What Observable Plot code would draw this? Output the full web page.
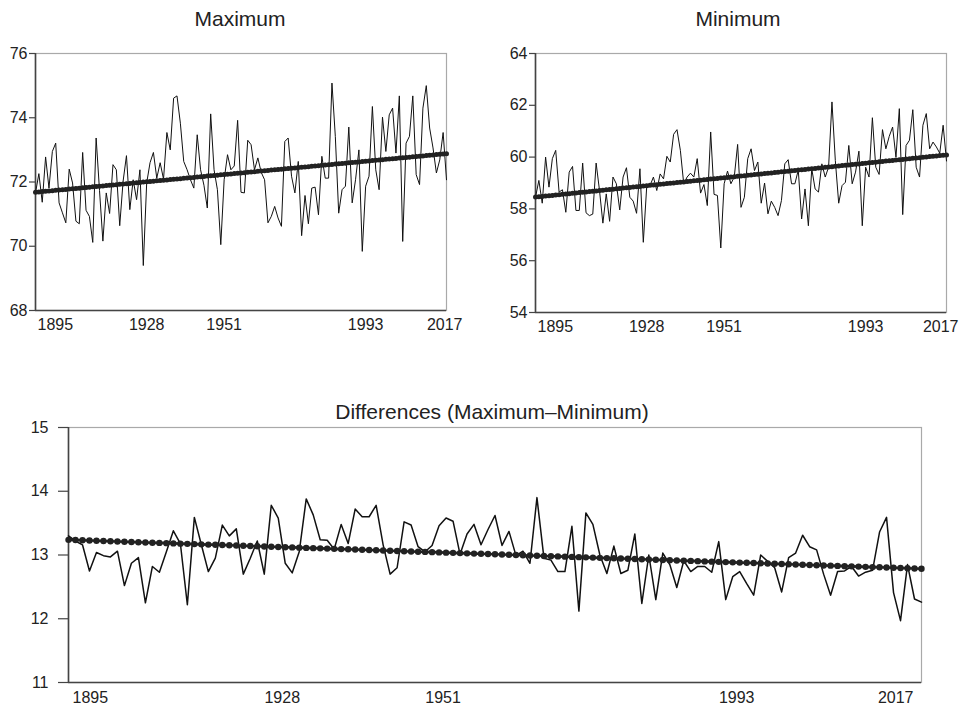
<!DOCTYPE html>
<html>
<head>
<meta charset="utf-8">
<script src="https://cdn.jsdelivr.net/npm/d3@7"></script>
<script src="https://cdn.jsdelivr.net/npm/@observablehq/plot@0.6"></script>
<style>
  html, body { margin: 0; padding: 0; background: #fff; }
  #root { position: relative; width: 960px; height: 708px; overflow: hidden; font-family: "Liberation Sans", Arial, sans-serif; }
  .panel { position: absolute; }
  #titles { position: absolute; left: 0; top: 0; pointer-events: none; }
</style>
</head>
<body>
<div id="root"></div>
<script>
// ---------- data ----------
const firstYear = 1895;
const lastYear = 2017;
const years = d3.range(firstYear, lastYear + 1);

const maximum = [
  71.66, 72.26, 71.37, 72.78, 71.81, 72.95, 73.21, 71.35, 71.04, 70.73,
  72.40, 71.97, 70.78, 70.70, 72.92, 71.12, 70.93, 70.12, 73.37, 71.74,
  70.16, 71.66, 71.02, 72.54, 72.38, 70.64, 72.02, 72.82, 71.14, 72.07,
  71.45, 72.38, 69.40, 71.97, 72.60, 72.92, 72.12, 72.60, 72.09, 73.54,
  73.00, 74.61, 74.68, 73.83, 72.64, 72.38, 72.07, 71.81, 73.47, 72.38,
  71.90, 71.19, 74.12, 72.38, 71.76, 70.05, 72.07, 72.85, 72.38, 72.50,
  73.92, 71.68, 71.66, 73.30, 73.16, 72.38, 72.75, 72.30, 72.07, 70.73,
  70.93, 71.24, 70.88, 70.62, 73.26, 73.37, 72.18, 71.66, 72.64, 70.33,
  71.58, 70.70, 71.81, 71.84, 70.98, 72.80, 72.12, 72.12, 75.08, 73.42,
  71.03, 71.76, 71.87, 73.71, 71.35, 72.07, 73.00, 69.84, 71.87, 72.18,
  74.35, 72.38, 71.76, 74.02, 72.95, 74.09, 74.30, 72.90, 74.68, 70.15,
  73.21, 73.42, 74.68, 72.23, 71.92, 74.30, 75.00, 73.68, 73.06, 72.28,
  72.69, 73.54, 72.07
];

const minimum = [
  58.45, 59.10, 58.22, 60.00, 58.84, 59.94, 60.26, 58.65, 58.74, 57.87,
  59.42, 59.64, 57.94, 57.94, 59.77, 57.85, 57.74, 57.80, 59.77, 58.71,
  57.45, 58.58, 57.52, 59.23, 58.97, 57.96, 59.23, 59.59, 58.45, 58.30,
  57.83, 59.55, 56.71, 58.84, 58.90, 59.23, 58.71, 59.35, 59.16, 60.03,
  59.81, 60.88, 61.06, 60.26, 58.97, 59.23, 59.38, 59.23, 59.94, 58.61,
  58.94, 58.13, 60.97, 58.56, 58.52, 56.49, 58.97, 59.46, 58.97, 59.23,
  60.49, 58.06, 58.45, 59.94, 60.32, 59.48, 59.81, 58.22, 59.00, 57.81,
  58.30, 58.06, 57.74, 58.32, 59.74, 59.90, 58.97, 58.97, 59.50, 57.61,
  58.77, 57.35, 59.55, 58.77, 58.65, 59.74, 59.23, 59.61, 62.13, 59.87,
  58.22, 58.90, 59.03, 60.45, 58.97, 59.42, 60.23, 57.35, 59.61, 59.23,
  61.52, 59.61, 59.33, 61.06, 60.32, 60.80, 61.16, 60.00, 61.87, 57.78,
  60.45, 60.65, 61.83, 59.61, 59.23, 61.23, 61.68, 60.32, 60.58, 60.39,
  60.15, 61.23, 59.85
];

const differences = [
  13.30, 13.22, 13.16, 12.75, 13.04, 12.99, 12.97, 13.06, 12.52, 12.87,
  12.96, 12.25, 12.82, 12.73, 13.05, 13.38, 13.18, 12.22, 13.59, 13.16,
  12.74, 12.95, 13.47, 13.30, 13.41, 12.70, 12.95, 13.22, 12.70, 13.78,
  13.58, 12.87, 12.72, 13.05, 13.88, 13.63, 13.24, 13.23, 13.09, 13.48,
  13.18, 13.72, 13.60, 13.60, 13.78, 13.16, 12.70, 12.80, 13.52, 13.47,
  13.13, 13.05, 13.15, 13.46, 13.58, 13.53, 13.01, 13.33, 13.48, 13.16,
  13.40, 13.62, 13.15, 13.37, 12.99, 13.06, 12.87, 13.90, 12.95, 12.92,
  12.74, 12.74, 13.45, 12.12, 13.66, 13.48, 13.00, 12.71, 13.14, 12.71,
  12.76, 13.33, 12.24, 13.00, 12.30, 13.03, 12.85, 12.49, 12.91, 12.74,
  12.82, 12.82, 12.73, 13.21, 12.30, 12.66, 12.74, 12.55, 12.37, 13.00,
  12.90, 12.80, 12.42, 12.96, 13.03, 13.31, 13.13, 13.08, 12.70, 12.37,
  12.74, 12.75, 12.82, 12.67, 12.73, 12.76, 13.36, 13.59, 12.41, 11.97,
  12.85, 12.31, 12.26
];

const xTickYears = [1895, 1928, 1951, 1993, 2017];
const maxTicks = [68, 70, 72, 74, 76];
const minTicks = [54, 56, 58, 60, 62, 64];
const diffTicks = [11, 12, 13, 14, 15];
const titles = ["Maximum", "Minimum", "Differences (Maximum\u2013Minimum)"];

// ---------- least-squares trend of each series ----------
function trendOf(values) {
  const mx = d3.mean(years), my = d3.mean(values);
  const b = d3.sum(years, (x, i) => (x - mx) * (values[i] - my)) / d3.sum(years, x => (x - mx) ** 2);
  return years.map(x => my + b * (x - mx));
}

const root = document.getElementById("root");

function panel(cfg) {
  const trend = trendOf(cfg.values);
  const rows = years.map((year, i) => ({year, value: cfg.values[i], trend: trend[i]}));
  const yDomain = [d3.min(cfg.yTicks), d3.max(cfg.yTicks)];
  const xText = {tickSize: 0, tickPadding: cfg.xPad, tickFormat: d => String(d), label: null, fontSize: 16, fill: "#222"};
  const chart = Plot.plot({
    width: cfg.width,
    height: cfg.height,
    marginLeft: cfg.margin[3],
    marginRight: cfg.margin[1],
    marginTop: cfg.margin[0],
    marginBottom: cfg.margin[2],
    style: {fontFamily: "'Liberation Sans', Arial, sans-serif", fontSize: "16px", color: "#222", background: "transparent", overflow: "visible"},
    x: {domain: [firstYear, lastYear]},
    y: {domain: yDomain},
    marks: [
      Plot.frame({stroke: "#a9a9a9", strokeWidth: 1.2}),
      Plot.ruleX([firstYear], {stroke: "#444", strokeWidth: 1.6}),
      Plot.ruleY([yDomain[0]], {stroke: "#444", strokeWidth: 1.6}),
      Plot.axisY({ticks: cfg.yTicks, tickSize: cfg.tickSize, tickPadding: cfg.tickPadding, tickFormat: d => String(d), label: null, stroke: "#444", strokeWidth: 1.2, fontSize: 16, fill: "#222"}),
      Plot.axisX({...xText, ticks: xTickYears.slice(0, 1), dx: cfg.firstDx, textAnchor: "start"}),
      Plot.axisX({...xText, ticks: xTickYears.slice(1, -1), dx: cfg.xDx}),
      Plot.axisX({...xText, ticks: xTickYears.slice(-1), dx: cfg.lastDx, textAnchor: "end"}),
      Plot.line(rows, {x: "year", y: "value", stroke: "#111", strokeWidth: cfg.lineWidth}),
      Plot.line(rows, {x: "year", y: "trend", stroke: "#222", strokeWidth: cfg.trendWidth}),
      Plot.dot(rows, {x: "year", y: "trend", r: cfg.dotR, fill: "#222", stroke: "none"})
    ]
  });
  const holder = document.createElement("div");
  holder.className = "panel";
  holder.style.left = cfg.left + "px";
  holder.style.top = cfg.top + "px";
  holder.appendChild(chart);
  root.appendChild(holder);
}

panel({values: maximum, yTicks: maxTicks, left: 0, top: 0, width: 470, height: 340,
  margin: [53, 24, 30, 35], tickSize: 6, tickPadding: 2, xPad: 8, xDx: 0, firstDx: 2, lastDx: 16,
  lineWidth: 1, trendWidth: 3.4, dotR: 2.5});
panel({values: minimum, yTicks: minTicks, left: 480, top: 0, width: 480, height: 340,
  margin: [53, 14, 28, 55], tickSize: 6, tickPadding: 2, xPad: 8, xDx: 0, firstDx: 2, lastDx: 12,
  lineWidth: 1, trendWidth: 3.4, dotR: 2.5});
panel({values: differences, yTicks: diffTicks, left: 0, top: 360, width: 960, height: 348,
  margin: [67, 39, 26, 68], tickSize: 10, tickPadding: 10, xPad: 9, xDx: -17, firstDx: 4, lastDx: -8,
  lineWidth: 1.5, trendWidth: 2.6, dotR: 3.2});

// ---------- titles ----------
const svgNS = "http://www.w3.org/2000/svg";
const tsvg = document.createElementNS(svgNS, "svg");
tsvg.setAttribute("id", "titles");
tsvg.setAttribute("width", 960);
tsvg.setAttribute("height", 708);
const titlePos = [[240, 26], [738, 26], [492, 419]];
titles.forEach((t, i) => {
  const el = document.createElementNS(svgNS, "text");
  el.setAttribute("x", titlePos[i][0]);
  el.setAttribute("y", titlePos[i][1]);
  el.setAttribute("text-anchor", "middle");
  el.setAttribute("font-size", "21");
  el.setAttribute("fill", "#222");
  el.setAttribute("font-family", "'Liberation Sans', Arial, sans-serif");
  el.textContent = t;
  tsvg.appendChild(el);
});
root.appendChild(tsvg);
</script>
</body>
</html>
